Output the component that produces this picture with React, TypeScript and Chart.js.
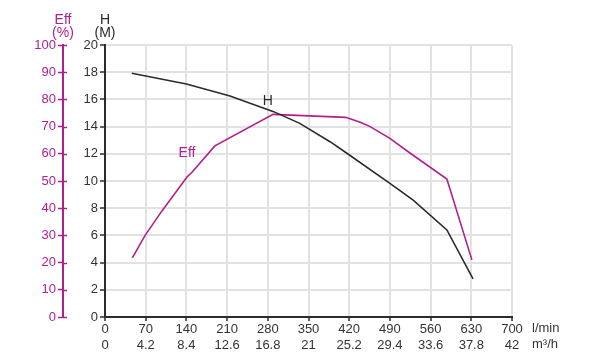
import React, { useEffect, useRef } from 'react';
import { Chart, registerables } from 'chart.js';

Chart.register(...registerables);

const FONT = "'Liberation Sans', Arial, sans-serif";
const MAGENTA = '#b01f8e';
const DARK = '#2b2b2b';
const GRID = '#e2e2e2';

// x axis: flow in l/min (0..700 step 70), second label row in m3/h
const m3hLabels = ['0', '4.2', '8.4', '12.6', '16.8', '21', '25.2', '29.4', '33.6', '37.8', '42'];

// Head curve H (M)
const headFlow = [46, 140, 215, 290, 335, 387, 416, 490, 530, 588, 633];
const headValues = [17.92, 17.13, 16.25, 15.1, 14.24, 12.89, 12.04, 9.83, 8.6, 6.4, 2.8];

// Efficiency curve Eff (%)
const effFlow = [47, 69, 98, 141, 150, 189, 289, 414, 439, 456, 490, 525, 588, 631];
const effValues = [21.7, 30, 39, 51.5, 53.3, 62.9, 74.5, 73.4, 71.6, 70, 65.7, 60.2, 50.7, 21];

const effTitle = ['Eff', '(%)'];
const headTitle = ['H', '(M)'];
const unitLabels = ['l/min', 'm³/h'];

const textPlugin = {
  id: 'texts',
  afterDraw(chart: any) {
    const { ctx, scales } = chart;
    const x = scales.x, yH = scales.yH, yE = scales.yE;
    ctx.save();
    // Eff tick stubs on the right side of the axis
    ctx.strokeStyle = MAGENTA;
    ctx.lineWidth = 1.5;
    yE.ticks.forEach((t: any) => {
      const py = Math.round(yE.getPixelForValue(t.value)) + 0.5;
      ctx.beginPath();
      ctx.moveTo(yE.right, py);
      ctx.lineTo(yE.right + 4, py);
      ctx.stroke();
    });
    // axis titles
    ctx.font = `14px ${FONT}`;
    ctx.textAlign = 'center';
    ctx.textBaseline = 'middle';
    ctx.fillStyle = MAGENTA;
    ctx.fillText(effTitle[0], yE.right, 20);
    ctx.fillText(effTitle[1], yE.right, 33);
    ctx.fillStyle = DARK;
    ctx.fillText(headTitle[0], yH.right, 20);
    ctx.fillText(headTitle[1], yH.right, 33);
    // units
    ctx.font = `13px ${FONT}`;
    ctx.textAlign = 'left';
    ctx.fillStyle = '#333';
    ctx.fillText(unitLabels[0], x.right + 20, 328);
    ctx.fillText(unitLabels[1], x.right + 20, 344);
    // curve labels
    ctx.font = `14px ${FONT}`;
    ctx.textAlign = 'center';
    ctx.fillStyle = DARK;
    ctx.fillText('H', x.getPixelForValue(280), yH.getPixelForValue(15.9));
    ctx.fillStyle = MAGENTA;
    ctx.fillText('Eff', x.getPixelForValue(141), yE.getPixelForValue(60.3));
    ctx.restore();
  },
};

export default function App() {
  const ref = useRef<HTMLCanvasElement | null>(null);
  useEffect(() => {
    if (!ref.current) return;
    const chart = new Chart(ref.current, {
      type: 'line',
      data: {
        datasets: [
          {
            label: 'H',
            data: headFlow.map((f, i) => ({ x: f, y: headValues[i] })),
            yAxisID: 'yH',
            borderColor: DARK,
            borderWidth: 1.6,
            pointRadius: 0,
            tension: 0,
          },
          {
            label: 'Eff',
            data: effFlow.map((f, i) => ({ x: f, y: effValues[i] })),
            yAxisID: 'yE',
            borderColor: MAGENTA,
            borderWidth: 1.6,
            pointRadius: 0,
            tension: 0,
          },
        ],
      },
      options: {
        animation: false,
        responsive: false,
        devicePixelRatio: 1,
        layout: { padding: { top: 45, right: 78, left: 0, bottom: 0 } },
        plugins: { legend: { display: false }, tooltip: { enabled: false } },
        scales: {
          x: {
            type: 'linear',
            position: 'bottom',
            min: 0,
            max: 700,
            ticks: {
              stepSize: 70,
              autoSkip: false,
              maxRotation: 0,
              color: '#333',
              font: { family: FONT, size: 13, lineHeight: 1.2 },
              padding: 1,
              callback: (v: any, i: number) => [String(v), m3hLabels[i]],
            },
            grid: { color: GRID, lineWidth: 2, tickColor: DARK, tickLength: 4, tickWidth: 1.5 },
            border: { color: DARK, width: 2 },
            afterFit: (s: any) => { s.height = 43; },
          },
          yH: {
            type: 'linear',
            position: 'left',
            weight: 0,
            min: 0,
            max: 20,
            ticks: { stepSize: 2, color: '#333', font: { family: FONT, size: 13 }, padding: 2 },
            grid: { color: GRID, lineWidth: 2, tickColor: DARK, tickLength: 5, tickWidth: 1.5 },
            border: { color: DARK, width: 2 },
            afterFit: (s: any) => { s.width = 42; },
          },
          yE: {
            type: 'linear',
            position: 'left',
            weight: 1,
            min: 0,
            max: 100,
            ticks: { stepSize: 10, color: MAGENTA, font: { family: FONT, size: 13 }, padding: 2 },
            grid: { drawOnChartArea: false, tickColor: MAGENTA, tickLength: 5, tickWidth: 1.5 },
            border: { color: MAGENTA, width: 2 },
            afterFit: (s: any) => { s.width = 63; },
          },
        },
      } as any,
      plugins: [textPlugin],
    });
    return () => chart.destroy();
  }, []);
  return (
    <div style={{ position: 'absolute', left: 0, top: 0, width: 590, height: 360, background: '#fff' }}>
      <canvas ref={ref} width={590} height={360} style={{ display: 'block' }} />
    </div>
  );
}
